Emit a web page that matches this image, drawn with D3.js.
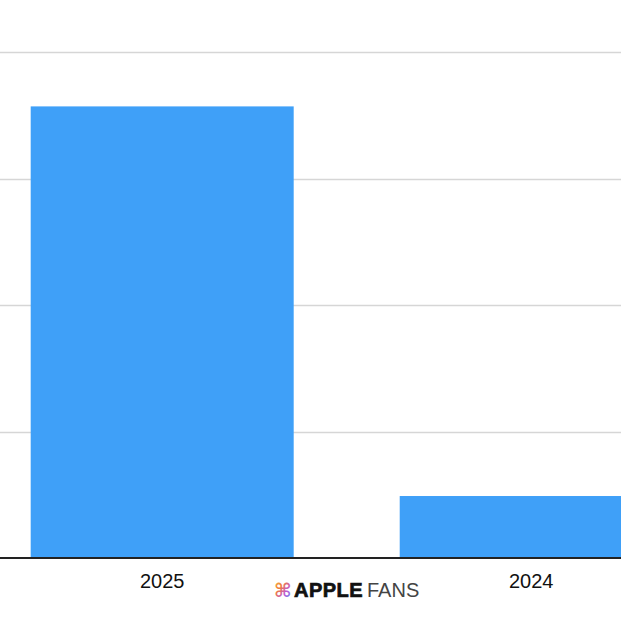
<!DOCTYPE html>
<html><head><meta charset="utf-8">
<script src="https://cdn.jsdelivr.net/npm/d3@7"></script>
<style>html,body{margin:0;padding:0;background:#fff;}svg{display:block;}</style>
</head><body>
<script>
const categories = ["2025", "2024"];
const values = [3.57, 0.49];
const tickValues = [0, 1, 2, 3, 4];

const W = 621, H = 621;
const svg = d3.select("body").append("svg").attr("width", W).attr("height", H);

const y = d3.scaleLinear().domain([0, 4]).range([558, 52]);
const x = d3.scaleBand().domain(categories).range([-22.3, 715.7])
  .paddingInner(0.2873).paddingOuter(0.1436);

// gridlines
svg.append("g").selectAll("line").data(tickValues.filter(d => d > 0)).join("line")
  .attr("x1", 0).attr("x2", W)
  .attr("y1", d => Math.round(y(d)) + 0.5).attr("y2", d => Math.round(y(d)) + 0.5)
  .attr("stroke", "#d6d6d6").attr("stroke-width", 1.5);

// bars
svg.append("g").selectAll("rect").data(categories).join("rect")
  .attr("x", d => x(d)).attr("width", x.bandwidth())
  .attr("y", (d, i) => y(values[i])).attr("height", (d, i) => y(0) - y(values[i]))
  .attr("fill", "#3fa0f8");

// baseline
svg.append("line").attr("x1", 0).attr("x2", W)
  .attr("y1", y(0)).attr("y2", y(0))
  .attr("stroke", "#222").attr("stroke-width", 2);

// x axis labels
svg.append("g").selectAll("text").data(categories).join("text")
  .attr("x", d => x(d) + x.bandwidth() / 2).attr("y", 588)
  .attr("text-anchor", "middle")
  .attr("font-family", "Liberation Sans, Arial, Helvetica, sans-serif")
  .attr("font-size", 20).attr("fill", "#111")
  .text(d => d);

// watermark
const defs = svg.append("defs");
const grad = defs.append("linearGradient").attr("id", "rb").attr("x1", "0").attr("y1", "0").attr("x2", "1").attr("y2", "1");
[["0%", "#f5c542"], ["35%", "#f07a3c"], ["65%", "#c05ad8"], ["100%", "#3aa0f0"]]
  .forEach(([o, c]) => grad.append("stop").attr("offset", o).attr("stop-color", c));
svg.append("text").attr("x", 274).attr("y", 597)
  .attr("font-family", "DejaVu Sans, sans-serif").attr("font-size", 19).attr("font-weight", "bold")
  .attr("fill", "url(#rb)").text("⌘");
svg.append("text").attr("x", 294).attr("y", 597)
  .attr("font-family", "Liberation Sans, Arial, sans-serif").attr("font-size", 20)
  .attr("font-weight", "bold").attr("fill", "#111").attr("stroke", "#111").attr("stroke-width", 0.7)
  .attr("letter-spacing", 0.5).text("APPLE");
svg.append("text").attr("x", 367).attr("y", 597)
  .attr("font-family", "Liberation Sans, Arial, sans-serif").attr("font-size", 20)
  .attr("fill", "#444").text("FANS");
</script>
</body></html>
